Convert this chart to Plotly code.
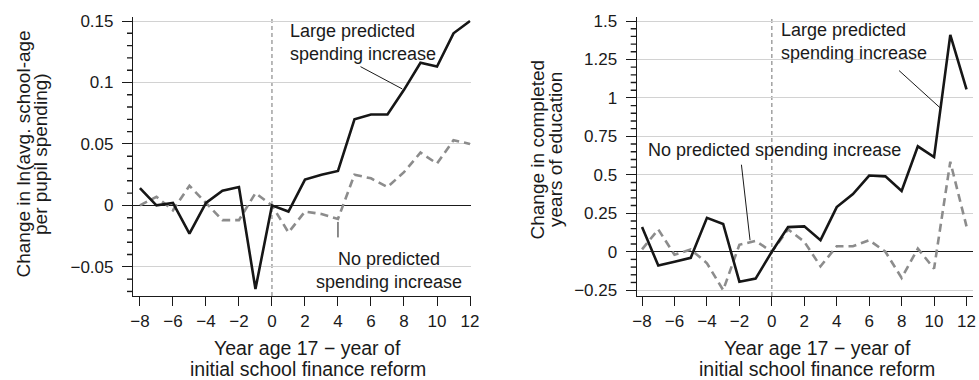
import numpy as np
import plotly.graph_objects as go

W, H = 979, 380

# Event time: year age 17 minus year of initial reform
years = list(range(-8, 13))

# Change in ln(per pupil spending)
spend_large = [0.014, 0.000, 0.002, -0.023, 0.002, 0.012, 0.015, -0.068, 0.0, -0.005, 0.021,
               0.025, 0.028, 0.070, 0.074, 0.074, 0.094, 0.116, 0.113, 0.140, 0.150]
spend_none = [0.000, 0.007, -0.004, 0.016, 0.002, -0.012, -0.012, 0.010, 0.0, -0.022, -0.005,
              -0.007, -0.011, 0.025, 0.022, 0.015, 0.027, 0.043, 0.034, 0.053, 0.050]

# Change in completed years of education
educ_large = [0.16, -0.09, -0.065, -0.04, 0.22, 0.18, -0.195, -0.175, 0.0, 0.16, 0.165,
              0.075, 0.29, 0.375, 0.495, 0.49, 0.395, 0.685, 0.615, 1.41, 1.055]
educ_none = [0.015, 0.145, -0.02, 0.015, -0.075, -0.25, 0.045, 0.07, 0.0, 0.145, 0.065,
             -0.095, 0.035, 0.035, 0.075, 0.0, -0.17, 0.02, -0.11, 0.585, 0.165]

x_ticks = list(range(-8, 13, 2))
x_ticktext = [str(v).replace("-", "\u2212") for v in x_ticks]

FONT = "Liberation Sans, Arial, Helvetica, sans-serif"
INK = "#1a1a1a"
SOLID = "#161616"
DASHED = "#8c8c8c"
GRID = "#d2d2d2"

SPEND_RANGE = [-0.0737, 0.1535]
EDUC_RANGE = [-0.288, 1.528]


def px_x(p):
    return p / W


def px_y(p):
    return 1 - p / H


fig = go.Figure()

for xa, ya, large, none in [("x", "y", spend_large, spend_none),
                            ("x2", "y2", educ_large, educ_none)]:
    fig.add_trace(go.Scatter(x=years, y=none, mode="lines", xaxis=xa, yaxis=ya,
                             line=dict(color=DASHED, width=2.6, dash="8px,5px"),
                             showlegend=False, hoverinfo="skip"))
    fig.add_trace(go.Scatter(x=years, y=large, mode="lines", xaxis=xa, yaxis=ya,
                             line=dict(color=SOLID, width=2.6),
                             showlegend=False, hoverinfo="skip"))

y_top, y_bot = px_y(16.7), px_y(296)
LEFT_X0, RIGHT_X0 = 133, 636.7
left_dom = [px_x(LEFT_X0), px_x(470.5)]
right_dom = [px_x(RIGHT_X0), px_x(973)]

tick_font = dict(family=FONT, size=17, color=INK)

xaxis_common = dict(
    tickmode="array", tickvals=x_ticks, ticktext=x_ticktext,
    ticks="outside", ticklen=9, tickwidth=1.2, tickcolor=INK,
    showline=True, linecolor=INK, linewidth=1.2,
    showgrid=False, zeroline=False,
    tickfont=tick_font, automargin=False,
)
yaxis_common = dict(
    tickmode="linear", tick0=0,
    ticks="outside", ticklen=10, tickwidth=1.2, tickcolor=INK,
    showline=True, linecolor=INK, linewidth=1.2,
    showgrid=True, gridcolor=GRID, gridwidth=1,
    zeroline=True, zerolinecolor=INK, zerolinewidth=1.2,
    tickfont=tick_font, automargin=False,
    ticklabelstandoff=5,
)

fig.update_layout(
    width=W, height=H,
    margin=dict(l=0, r=0, t=0, b=0),
    paper_bgcolor="white", plot_bgcolor="white",
    font=dict(family=FONT, color=INK),
    xaxis=dict(xaxis_common, domain=left_dom, range=[-8.42, 12.03], anchor="y"),
    yaxis=dict(yaxis_common, domain=[y_bot, y_top], range=SPEND_RANGE, dtick=0.05, anchor="x"),
    xaxis2=dict(xaxis_common, domain=right_dom, range=[-8.33, 12.4], anchor="y2"),
    yaxis2=dict(yaxis_common, domain=[y_bot, y_top], range=EDUC_RANGE, dtick=0.25, anchor="x2"),
)

# Short intermediate ticks on the y axes
for x_edge, ya, rng, step, major in [(LEFT_X0, "y", SPEND_RANGE, 0.01, 5),
                                     (RIGHT_X0, "y2", EDUC_RANGE, 0.05, 5)]:
    k0 = int(np.ceil(rng[0] / step))
    k1 = int(np.floor(rng[1] / step))
    for k in range(k0, k1 + 1):
        if k % major == 0:
            continue
        v = k * step
        fig.add_shape(type="line", xref="paper", yref=ya,
                      x0=px_x(x_edge - 6), x1=px_x(x_edge), y0=v, y1=v,
                      line=dict(color=INK, width=1.4))

# Reform year marker
for xr, yr in [("x", "y domain"), ("x2", "y2 domain")]:
    fig.add_shape(type="line", xref=xr, yref=yr, x0=0, x1=0, y0=0, y1=1,
                  line=dict(color="#8a8a8a", width=1.2, dash="4px,3px"), layer="below")

ann_font = dict(family=FONT, size=18, color=INK)
xtitle_font = dict(family=FONT, size=19.5, color=INK)
ytitle_font = dict(family=FONT, size=19, color=INK)

# Series labels with leader lines
fig.add_annotation(xref="x", yref="y", x=0.97, y=0.1324, xanchor="left", yanchor="middle",
                   align="left", text="Large predicted<br>spending increase",
                   showarrow=False, font=ann_font)
fig.add_annotation(xref="x", yref="y", x=8, y=spend_large[years.index(8)], ax=-45, ay=-24,
                   text="", showarrow=True, arrowhead=0, arrowwidth=1, arrowcolor=INK, standoff=2)
fig.add_annotation(xref="x", yref="y", x=7.12, y=-0.0526, xanchor="center", yanchor="middle",
                   align="center", text="No predicted<br>spending increase",
                   showarrow=False, font=ann_font)
fig.add_annotation(xref="x", yref="y", x=4, y=spend_none[years.index(4)], ax=0, ay=20,
                   text="", showarrow=True, arrowhead=0, arrowwidth=1, arrowcolor=INK, standoff=3)

fig.add_annotation(xref="x2", yref="y2", x=0.43, y=1.365, xanchor="left", yanchor="middle",
                   align="left", text="Large predicted<br>spending increase",
                   showarrow=False, font=ann_font)
lx = 10.4
fig.add_annotation(xref="x2", yref="y2", x=lx, y=float(np.interp(lx, years, educ_large)),
                   ax=-43, ay=-39, text="", showarrow=True, arrowhead=0, arrowwidth=1,
                   arrowcolor=INK, standoff=0)
fig.add_annotation(xref="x2", yref="y2", x=0.18, y=0.662, xanchor="center", yanchor="middle",
                   text="No predicted spending increase", showarrow=False, font=ann_font)
nx = -1.33
fig.add_annotation(xref="x2", yref="y2", x=nx, y=float(np.interp(nx, years, educ_none)),
                   ax=-9, ay=-79, text="", showarrow=True, arrowhead=0, arrowwidth=1,
                   arrowcolor=INK, standoff=2)

# Axis titles, one line each
x_title = ["Year age 17 \u2212 year of", "initial school finance reform"]
for cx in (307.5, 817):
    for line, cy in zip(x_title, (347.5, 369)):
        fig.add_annotation(xref="paper", yref="paper", x=px_x(cx), y=px_y(cy),
                           xanchor="center", yanchor="middle", text=line,
                           showarrow=False, font=xtitle_font)

for lines, xs, cy in [
    (["Change in ln(avg. school-age", "per pupil spending)"], (23.5, 41), 154),
    (["Change in completed", "years of education"], (536.5, 555), 150),
]:
    for line, cx in zip(lines, xs):
        fig.add_annotation(xref="paper", yref="paper", x=px_x(cx), y=px_y(cy),
                           xanchor="center", yanchor="middle", text=line, textangle=-90,
                           showarrow=False, font=ytitle_font)

fig.write_html("out.html")
